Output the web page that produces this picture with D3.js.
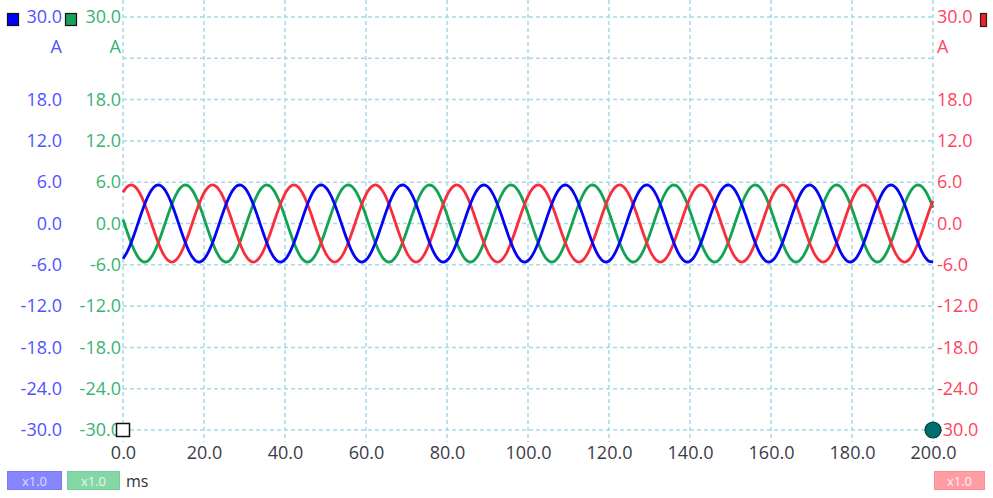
<!DOCTYPE html>
<html>
<head>
<meta charset="utf-8">
<script src="https://cdn.jsdelivr.net/npm/d3@7"></script>
<style>
  body { margin: 0; background: #ffffff; }
  svg { display: block; font-family: "Open Sans", sans-serif; }
</style>
</head>
<body>
<svg id="chart" width="993" height="498"></svg>
<script>
// ---- data ----
const timeStepMs = 1.005; // sample interval (ms)
const xTickValues = [0, 20, 40, 60, 80, 100, 120, 140, 160, 180, 200];
const yGridValues = [30, 24, 18, 12, 6, 0, -6, -12, -18, -24, -30];
const yLabelValues = [30, 18, 12, 6, 0, -6, -12, -18, -24, -30];
const unitLabel = "A";
const timeUnit = "ms";
const scaleBadges = ["x1.0", "x1.0", "x1.0"];

const redValues = [
  4.53,5.33,5.60,5.33,4.53,3.29,1.73,0.00,-1.73,-3.29,-4.53,-5.33,-5.60,-5.33,-4.53,-3.29,-1.73,0.00,1.73,3.29,
  4.53,5.33,5.60,5.33,4.53,3.29,1.73,0.00,-1.73,-3.29,-4.53,-5.33,-5.60,-5.33,-4.53,-3.29,-1.73,0.00,1.73,3.29,
  4.53,5.33,5.60,5.33,4.53,3.29,1.73,0.00,-1.73,-3.29,-4.53,-5.33,-5.60,-5.33,-4.53,-3.29,-1.73,0.00,1.73,3.29,
  4.53,5.33,5.60,5.33,4.53,3.29,1.73,0.00,-1.73,-3.29,-4.53,-5.33,-5.60,-5.33,-4.53,-3.29,-1.73,0.00,1.73,3.29,
  4.53,5.33,5.60,5.33,4.53,3.29,1.73,0.00,-1.73,-3.29,-4.53,-5.33,-5.60,-5.33,-4.53,-3.29,-1.73,0.00,1.73,3.29,
  4.53,5.33,5.60,5.33,4.53,3.29,1.73,0.00,-1.73,-3.29,-4.53,-5.33,-5.60,-5.33,-4.53,-3.29,-1.73,0.00,1.73,3.29,
  4.53,5.33,5.60,5.33,4.53,3.29,1.73,0.00,-1.73,-3.29,-4.53,-5.33,-5.60,-5.33,-4.53,-3.29,-1.73,0.00,1.73,3.29,
  4.53,5.33,5.60,5.33,4.53,3.29,1.73,0.00,-1.73,-3.29,-4.53,-5.33,-5.60,-5.33,-4.53,-3.29,-1.73,0.00,1.73,3.29,
  4.53,5.33,5.60,5.33,4.53,3.29,1.73,0.00,-1.73,-3.29,-4.53,-5.33,-5.60,-5.33,-4.53,-3.29,-1.73,0.00,1.73,3.29,
  4.53,5.33,5.60,5.33,4.53,3.29,1.73,0.00,-1.73,-3.29,-4.53,-5.33,-5.60,-5.33,-4.53,-3.29,-1.73,0.00,1.73,3.29
];
const blueValues = [
  -5.12,-4.16,-2.80,-1.16,0.59,2.28,3.75,4.85,5.48,5.57,5.12,4.16,2.80,1.16,-0.59,-2.28,-3.75,-4.85,-5.48,-5.57,
  -5.12,-4.16,-2.80,-1.16,0.59,2.28,3.75,4.85,5.48,5.57,5.12,4.16,2.80,1.16,-0.59,-2.28,-3.75,-4.85,-5.48,-5.57,
  -5.12,-4.16,-2.80,-1.16,0.59,2.28,3.75,4.85,5.48,5.57,5.12,4.16,2.80,1.16,-0.59,-2.28,-3.75,-4.85,-5.48,-5.57,
  -5.12,-4.16,-2.80,-1.16,0.59,2.28,3.75,4.85,5.48,5.57,5.12,4.16,2.80,1.16,-0.59,-2.28,-3.75,-4.85,-5.48,-5.57,
  -5.12,-4.16,-2.80,-1.16,0.59,2.28,3.75,4.85,5.48,5.57,5.12,4.16,2.80,1.16,-0.59,-2.28,-3.75,-4.85,-5.48,-5.57,
  -5.12,-4.16,-2.80,-1.16,0.59,2.28,3.75,4.85,5.48,5.57,5.12,4.16,2.80,1.16,-0.59,-2.28,-3.75,-4.85,-5.48,-5.57,
  -5.12,-4.16,-2.80,-1.16,0.59,2.28,3.75,4.85,5.48,5.57,5.12,4.16,2.80,1.16,-0.59,-2.28,-3.75,-4.85,-5.48,-5.57,
  -5.12,-4.16,-2.80,-1.16,0.59,2.28,3.75,4.85,5.48,5.57,5.12,4.16,2.80,1.16,-0.59,-2.28,-3.75,-4.85,-5.48,-5.57,
  -5.12,-4.16,-2.80,-1.16,0.59,2.28,3.75,4.85,5.48,5.57,5.12,4.16,2.80,1.16,-0.59,-2.28,-3.75,-4.85,-5.48,-5.57,
  -5.12,-4.16,-2.80,-1.16,0.59,2.28,3.75,4.85,5.48,5.57,5.12,4.16,2.80,1.16,-0.59,-2.28,-3.75,-4.85,-5.48,-5.57
];
const greenValues = [
  0.59,-1.16,-2.80,-4.16,-5.12,-5.57,-5.48,-4.85,-3.75,-2.28,-0.59,1.16,2.80,4.16,5.12,5.57,5.48,4.85,3.75,2.28,
  0.59,-1.16,-2.80,-4.16,-5.12,-5.57,-5.48,-4.85,-3.75,-2.28,-0.59,1.16,2.80,4.16,5.12,5.57,5.48,4.85,3.75,2.28,
  0.59,-1.16,-2.80,-4.16,-5.12,-5.57,-5.48,-4.85,-3.75,-2.28,-0.59,1.16,2.80,4.16,5.12,5.57,5.48,4.85,3.75,2.28,
  0.59,-1.16,-2.80,-4.16,-5.12,-5.57,-5.48,-4.85,-3.75,-2.28,-0.59,1.16,2.80,4.16,5.12,5.57,5.48,4.85,3.75,2.28,
  0.59,-1.16,-2.80,-4.16,-5.12,-5.57,-5.48,-4.85,-3.75,-2.28,-0.59,1.16,2.80,4.16,5.12,5.57,5.48,4.85,3.75,2.28,
  0.59,-1.16,-2.80,-4.16,-5.12,-5.57,-5.48,-4.85,-3.75,-2.28,-0.59,1.16,2.80,4.16,5.12,5.57,5.48,4.85,3.75,2.28,
  0.59,-1.16,-2.80,-4.16,-5.12,-5.57,-5.48,-4.85,-3.75,-2.28,-0.59,1.16,2.80,4.16,5.12,5.57,5.48,4.85,3.75,2.28,
  0.59,-1.16,-2.80,-4.16,-5.12,-5.57,-5.48,-4.85,-3.75,-2.28,-0.59,1.16,2.80,4.16,5.12,5.57,5.48,4.85,3.75,2.28,
  0.59,-1.16,-2.80,-4.16,-5.12,-5.57,-5.48,-4.85,-3.75,-2.28,-0.59,1.16,2.80,4.16,5.12,5.57,5.48,4.85,3.75,2.28,
  0.59,-1.16,-2.80,-4.16,-5.12,-5.57,-5.48,-4.85,-3.75,-2.28,-0.59,1.16,2.80,4.16,5.12,5.57,5.48,4.85,3.75,2.28
];

(function () {
// ---- setup ----
const svg = d3.select("#chart");
const W = 993, H = 498;
const plotL = 123, plotR = 933, plotT = 17, plotB = 430;
const x = d3.scaleLinear().domain([0, 200]).range([plotL, plotR]);
const y = d3.scaleLinear().domain([-30, 30]).range([plotB, plotT]);

svg.append("rect").attr("width", W).attr("height", H).attr("fill", "#ffffff");

const gridColor = "#a9d9e6";
// horizontal grid
svg.append("g").selectAll("line").data(yGridValues).join("line")
  .attr("x1", plotL).attr("x2", plotR)
  .attr("y1", d => y(d)).attr("y2", d => y(d))
  .attr("stroke", gridColor).attr("stroke-width", 1.5)
  .attr("stroke-dasharray", "4,3");
// vertical grid
svg.append("g").selectAll("line").data(xTickValues).join("line")
  .attr("x1", d => x(d)).attr("x2", d => x(d))
  .attr("y1", plotT - 17).attr("y2", plotB + 12)
  .attr("stroke", gridColor).attr("stroke-width", 1.5)
  .attr("stroke-dasharray", "4,3");

const fmt = d => d.toFixed(1);
const colors = {
  blueText: "#5252ff", greenText: "#38b473", redText: "#ff4462",
  blue: "#0505f5", green: "#12a452", red: "#fa2d3c"
};

function styleAxis(g, color, anchor) {
  g.select(".domain").remove();
  g.selectAll(".tick line").remove();
  g.selectAll("text").attr("fill", color).attr("font-size", 18)
    .attr("font-family", "'Open Sans', sans-serif").attr("text-anchor", anchor);
}

// left blue axis
svg.append("g").attr("transform", "translate(62,0)")
  .call(d3.axisLeft(y).tickValues(yLabelValues).tickFormat(fmt).tickSize(0).tickPadding(0))
  .call(g => styleAxis(g, colors.blueText, "end"));
// left green axis
svg.append("g").attr("transform", "translate(121,0)")
  .call(d3.axisLeft(y).tickValues(yLabelValues).tickFormat(fmt).tickSize(0).tickPadding(0))
  .call(g => styleAxis(g, colors.greenText, "end"));
// right red axis
svg.append("g").attr("transform", "translate(937,0)")
  .call(d3.axisRight(y).tickValues(yLabelValues).tickFormat(fmt).tickSize(0).tickPadding(0))
  .call(g => styleAxis(g, colors.redText, "start"));

// unit labels
const unitY = y(30) + 36;
svg.append("text").attr("x", 62).attr("y", unitY).attr("text-anchor", "end")
  .attr("fill", colors.blueText).attr("font-size", 18).text(unitLabel);
svg.append("text").attr("x", 121).attr("y", unitY).attr("text-anchor", "end")
  .attr("fill", colors.greenText).attr("font-size", 18).text(unitLabel);
svg.append("text").attr("x", 937).attr("y", unitY).attr("text-anchor", "start")
  .attr("fill", colors.redText).attr("font-size", 18).text(unitLabel);

// x axis labels
svg.append("g").attr("transform", `translate(0,${plotB})`)
  .call(d3.axisBottom(x).tickValues(xTickValues).tickFormat(fmt).tickSize(0).tickPadding(16))
  .call(g => { g.select(".domain").remove(); g.selectAll("text").attr("fill", "#3c3c48").attr("font-size", 18).attr("font-family", "'Open Sans', sans-serif"); });

// waves
const line = d3.line()
  .x((d, i) => x(i * timeStepMs))
  .y(d => y(d))
  .curve(d3.curveCatmullRom);

const series = [
  { values: greenValues, color: colors.green },
  { values: redValues, color: colors.red },
  { values: blueValues, color: colors.blue }
];
svg.append("g").selectAll("path").data(series).join("path")
  .attr("d", d => line(d.values))
  .attr("fill", "none")
  .attr("stroke", d => d.color)
  .attr("stroke-width", 2.8)
  .attr("stroke-linejoin", "round");

// channel markers (top)
svg.append("rect").attr("x", 7.5).attr("y", 13.5).attr("width", 11).attr("height", 12)
  .attr("fill", "#0000ff").attr("stroke", "#111").attr("stroke-width", 1.2);
svg.append("rect").attr("x", 65.5).attr("y", 13.5).attr("width", 11).attr("height", 12)
  .attr("fill", "#16a058").attr("stroke", "#111").attr("stroke-width", 1.2);
svg.append("rect").attr("x", 980.5).attr("y", 13.5).attr("width", 6).attr("height", 13)
  .attr("fill", "#f0202c").attr("stroke", "#222").attr("stroke-width", 1.2);

// start / end markers
svg.append("rect").attr("x", plotL - 6.5).attr("y", plotB - 6.5)
  .attr("width", 13).attr("height", 13)
  .attr("fill", "#ffffff").attr("stroke", "#111").attr("stroke-width", 1.5);
svg.append("circle").attr("cx", plotR).attr("cy", plotB).attr("r", 8)
  .attr("fill", "#006e6e").attr("stroke", "#0b3a3a").attr("stroke-width", 1.2);

// badges
const badges = [
  { x: 7, w: 54, fill: "#8686ff", stroke: "#7a7af2", text: "#dcdcff", label: scaleBadges[0] },
  { x: 67, w: 52, fill: "#86d7a6", stroke: "#78cc99", text: "#e4f6ea", label: scaleBadges[1] },
  { x: 934, w: 50, fill: "#ff9ca4", stroke: "#f79098", text: "#fff0f0", label: scaleBadges[2] }
];
const bg = svg.append("g").selectAll("g").data(badges).join("g");
bg.append("rect").attr("x", d => d.x + 0.5).attr("y", 471.5).attr("width", d => d.w).attr("height", 18)
  .attr("fill", d => d.fill).attr("stroke", d => d.stroke).attr("stroke-width", 1);
bg.append("text").attr("x", d => d.x + d.w / 2 + 0.5).attr("y", 485.5).attr("text-anchor", "middle")
  .attr("fill", d => d.text).attr("font-size", 13).text(d => d.label);

svg.append("text").attr("x", 126).attr("y", 487).attr("fill", "#303040")
  .attr("font-size", 16).text(timeUnit);
})();
</script>
</body>
</html>
